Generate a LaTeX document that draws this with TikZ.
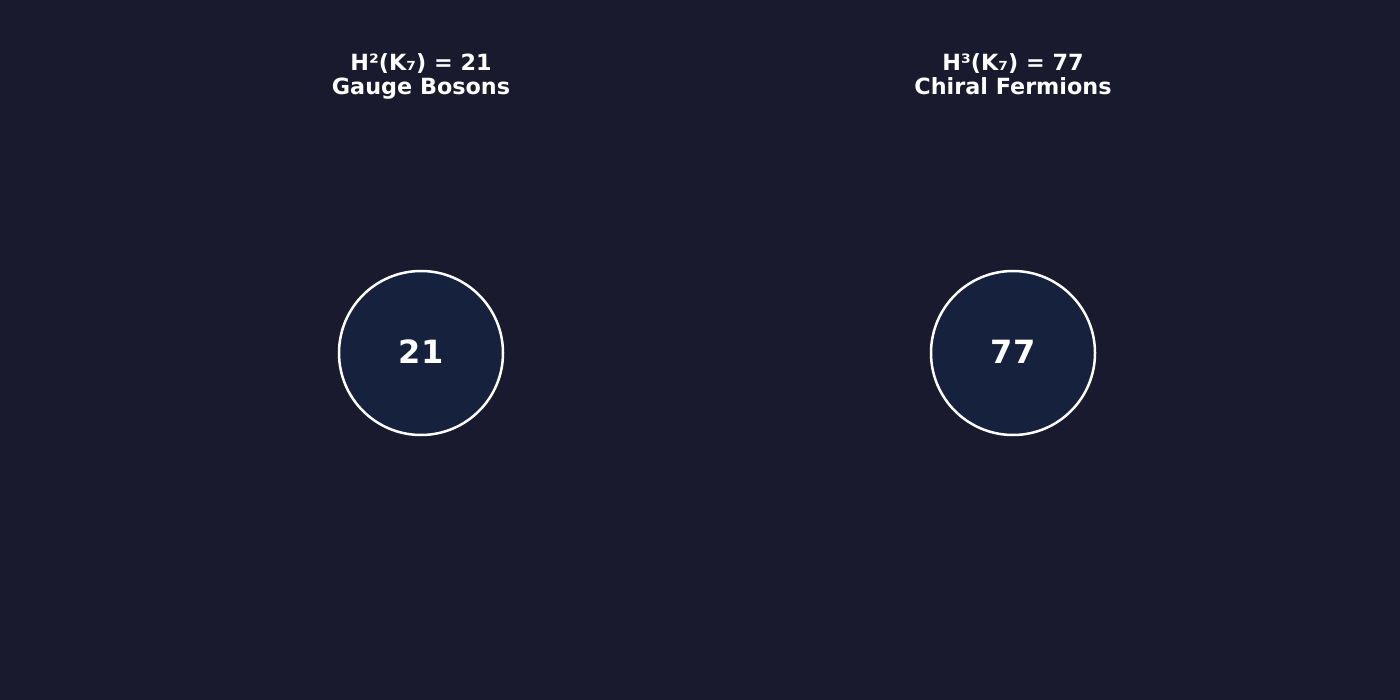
\documentclass[tikz,border=0pt]{standalone}
\usepackage{fontspec}
\setmainfont{DejaVu Sans}
\definecolor{bgc}{HTML}{1A1A2E}
\definecolor{circc}{HTML}{16213E}
\tikzset{
  title/.style={text=white, font=\fontsize{22.3}{26}\selectfont\bfseries, anchor=base, inner sep=0pt},
  ball/.style={circle, draw=white, line width=2.5pt, fill=circc, minimum size=164pt, inner sep=0pt},
  num/.style={text=white, font=\fontsize{32}{38}\selectfont\bfseries, anchor=base, inner sep=0pt}
}
\begin{document}
\begin{tikzpicture}[x=1pt,y=-1pt]
\fill[bgc] (0,0) rectangle (1400,700);
\useasboundingbox (0,0) rectangle (1400,700);
\node[title] (t1a) at (421,71) {H²(K₇) = 21};
\node[title] (t1b) at (421,95) {Gauge Bosons};
\node[title] (t2a) at (1013,71) {H³(K₇) = 77};
\node[title] (t2b) at (1013,95) {Chiral Fermions};
\node[ball] (c1) at (421,353) {};
\node[ball] (c2) at (1013,353) {};
\node[num] (n1) at (421,364) {21};
\node[num] (n2) at (1013,364) {77};
\end{tikzpicture}
\end{document}
